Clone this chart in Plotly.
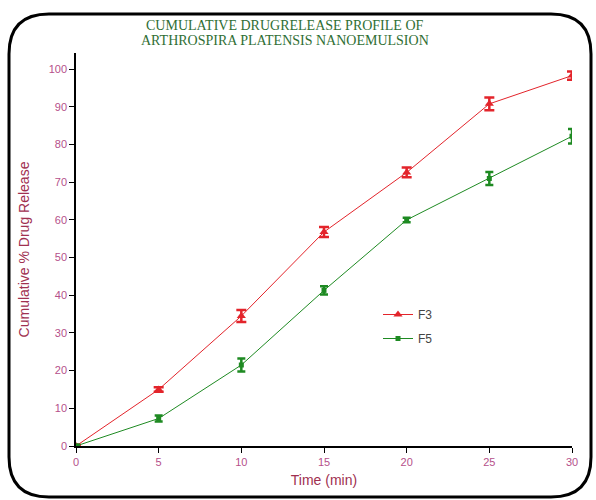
import plotly.graph_objects as go

time_min = [0, 5, 10, 15, 20, 25, 30]
f3_release = [0, 15.0, 34.5, 56.8, 72.6, 90.8, 98.3]
f3_err = [0.3, 0.6, 1.6, 1.3, 1.3, 1.7, 1.1]
f5_release = [0, 7.3, 21.5, 41.3, 60.0, 71.0, 82.2]
f5_err = [0.3, 0.8, 1.7, 1.1, 0.6, 1.7, 1.9]
x_ticks = [0, 5, 10, 15, 20, 25, 30]
y_ticks = [0, 10, 20, 30, 40, 50, 60, 70, 80, 90, 100]
title_lines = ["CUMULATIVE DRUGRELEASE PROFILE OF", "ARTHROSPIRA PLATENSIS NANOEMULSION"]

W, H = 596, 500
L, R, T, B = 76, 24, 53, 54
pw, ph = W - L - R, H - T - B


def px(x):
    return (x - L) / pw


def py(y):
    return (H - B - y) / ph


fig = go.Figure()
fig.add_trace(go.Scatter(
    x=time_min, y=f3_release, name="F3", mode="lines+markers", legendgroup="a",
    line=dict(color="#e3242b", width=1),
    marker=dict(symbol="triangle-up", size=8, color="#e3242b"),
    error_y=dict(type="data", array=f3_err, visible=True, color="#e3242b", thickness=2.5, width=5),
))
fig.add_trace(go.Scatter(
    x=time_min, y=f5_release, name="F5", mode="lines+markers", legendgroup="b",
    line=dict(color="#1e8a22", width=1),
    marker=dict(symbol="square", size=5, color="#1e8a22"),
    error_y=dict(type="data", array=f5_err, visible=True, color="#1e8a22", thickness=2.5, width=4),
))

# rounded border
r = 40
x0, y0, x1, y1 = 9, 14, 591, 497
pts = [
    ("M", (x0 + r, y0)), ("L", (x1 - r, y0)), ("Q", (x1, y0), (x1, y0 + r)),
    ("L", (x1, y1 - r)), ("Q", (x1, y1), (x1 - r, y1)), ("L", (x0 + r, y1)),
    ("Q", (x0, y1), (x0, y1 - r)), ("L", (x0, y0 + r)), ("Q", (x0, y0), (x0 + r, y0)),
]
path = ""
for p in pts:
    path += p[0] + " " + " ".join(f"{px(a):.5f},{py(b):.5f}" for a, b in p[1:]) + " "
path += "Z"

annotations = []
for i, t in enumerate(title_lines):
    annotations.append(dict(
        text=t, x=px(285), y=py(25 + 16 * i), xref="paper", yref="paper",
        xanchor="center", yanchor="middle", showarrow=False,
        font=dict(family="Liberation Serif, Times New Roman", size=14, color="#2f6e34"),
    ))

fig.update_layout(
    width=W, height=H,
    margin=dict(l=L, r=R, t=T, b=B),
    paper_bgcolor="white", plot_bgcolor="white",
    showlegend=True,
    legend=dict(x=px(378), y=py(300), xanchor="left", yanchor="top",
                bgcolor="rgba(0,0,0,0)", font=dict(family="Liberation Sans, Arial", size=12, color="#444"),
                tracegroupgap=5, itemwidth=30),
    shapes=[dict(type="path", path=path, xref="paper", yref="paper",
                 line=dict(color="black", width=3), layer="above")],
    annotations=annotations,
    xaxis=dict(
        range=[0, 30], tickvals=x_ticks, showgrid=False, zeroline=False,
        showline=True, linecolor="black", linewidth=1.5, ticks="outside", ticklen=5,
        tickcolor="black", tickfont=dict(family="Liberation Sans, Arial", size=11, color="#b5508a"),
        title=dict(text="Time (min)", font=dict(family="Liberation Sans, Arial", size=14, color="#a03050"), standoff=8),
    ),
    yaxis=dict(
        range=[0, 104.3], tickvals=y_ticks, showgrid=False, zeroline=False,
        showline=True, linecolor="black", linewidth=1.5, ticks="outside", ticklen=5,
        tickcolor="black", tickfont=dict(family="Liberation Sans, Arial", size=11, color="#b5508a"),
        title=dict(text="Cumulative % Drug Release", font=dict(family="Liberation Sans, Arial", size=14, color="#a03050"), standoff=16),
    ),
)
fig.write_html("out.html", config={"displayModeBar": False},
               post_script="document.body.style.margin='0';document.body.style.overflow='hidden';")
